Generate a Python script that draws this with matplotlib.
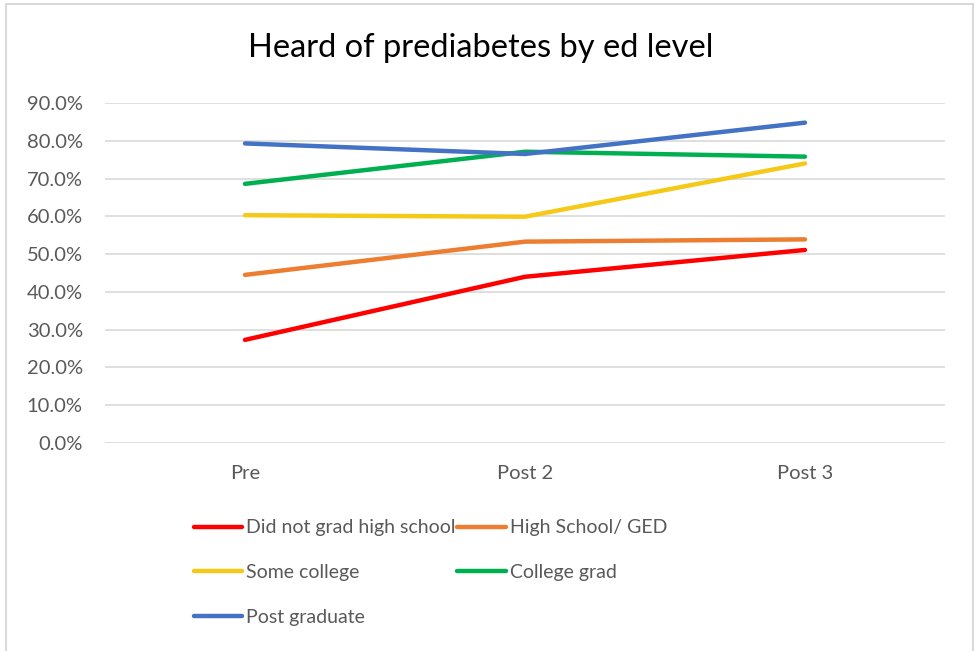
import matplotlib
matplotlib.use("Agg")
import matplotlib.pyplot as plt
from matplotlib.patches import Rectangle
from matplotlib.ticker import PercentFormatter, MultipleLocator

# Survey waves and share of respondents who had heard of prediabetes
waves = ["Pre", "Post 2", "Post 3"]
did_not_grad_hs = [27.3, 44.0, 51.1]
high_school_ged = [44.5, 53.3, 53.9]
some_college = [60.3, 59.9, 74.0]
college_grad = [68.6, 77.1, 75.8]
post_graduate = [79.3, 76.5, 84.8]

series_names = ["Did not grad high school", "High School/ GED", "Some college",
                "College grad", "Post graduate"]
series_values = [did_not_grad_hs, high_school_ged, some_college, college_grad, post_graduate]
series_colors = ["#FF0000", "#ED7D31", "#F5C918", "#00B050", "#4472C4"]

plt.rcParams["font.family"] = ["Lato", "DejaVu Sans"]

W, H = 978, 651
fig = plt.figure(figsize=(W / 100, H / 100), dpi=100)

def fx(px):
    return px / W

def fy(py):
    return 1 - py / H

# chart frame (light gray border)
fig.add_artist(Rectangle((fx(6), fy(700)), fx(973) - fx(6), fy(4) - fy(700),
                         transform=fig.transFigure, fill=False,
                         edgecolor="#D9D9D9", linewidth=1.5))

ax = fig.add_axes([fx(105), fy(443), fx(945) - fx(105), fy(103) - fy(443)])
x = list(range(len(waves)))
handles = []
for name, vals, col in zip(series_names, series_values, series_colors):
    (ln,) = ax.plot(x, vals, color=col, linewidth=3.2, solid_capstyle="round",
                    solid_joinstyle="round", label=name)
    handles.append(ln)

ax.set_xlim(-0.5, len(waves) - 0.5)
ax.set_ylim(0, 90)
ax.yaxis.set_major_locator(MultipleLocator(10))
ax.yaxis.set_major_formatter(PercentFormatter(decimals=1))
ax.set_xticks(x)
ax.set_xticklabels(waves)
ax.grid(axis="y", color="#D9D9D9", linewidth=1.2)
ax.set_axisbelow(True)
for s in ax.spines.values():
    s.set_visible(False)
ax.tick_params(axis="both", length=0, labelsize=14.5, labelcolor="#595959")
ax.tick_params(axis="y", pad=16)
ax.tick_params(axis="x", pad=16)

fig.text(fx(481), fy(48), "Heard of prediabetes by ed level", ha="center",
         va="center", fontsize=23.5, color="#000000")

# legend laid out row by row: reorder for the column-major fill
order = [0, 2, 4, 1, 3]
leg = fig.legend([handles[i] for i in order], [series_names[i] for i in order],
                 ncol=2, loc="upper left", bbox_to_anchor=(fx(176), fy(502)),
                 frameon=False, fontsize=14, handlelength=2.5, handletextpad=0.2,
                 columnspacing=0.1, labelspacing=1.42, labelcolor="#595959")

fig.savefig("out.png", dpi=100, facecolor="white")
